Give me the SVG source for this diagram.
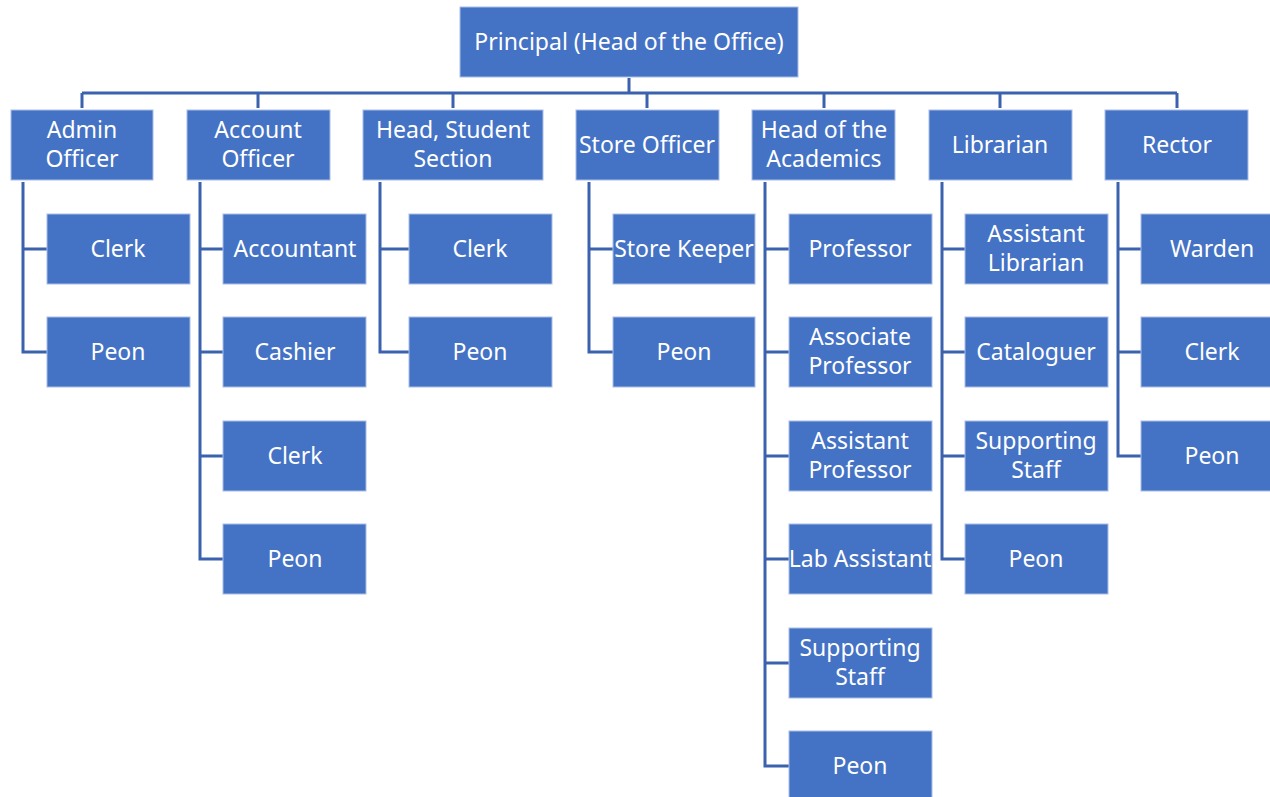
<svg xmlns="http://www.w3.org/2000/svg" width="1270" height="797" viewBox="0 0 1270 797">
<style>
.b{fill:#4472C4;stroke:#A9BEE6;stroke-width:1}
.t{font-family:"Noto Sans","Open Sans",sans-serif;font-size:23px;fill:#ffffff;text-anchor:middle}
.c{fill:none;stroke:#3A62AE;stroke-width:3}
</style>
<rect width="1270" height="797" fill="#ffffff"/>
<g id="connectors" class="c">
<path d="M629 78V93M82 93H1177M82 93V108M258 93V108M453 93V108M647 93V108M824 93V108M1000 93V108M1177 93V108"/>
<path d="M23 182V352H47M23 249H47"/>
<path d="M200 182V559H223M200 249H223M200 352H223M200 456H223"/>
<path d="M380 182V352H409M380 249H409"/>
<path d="M589 182V352H613M589 249H613"/>
<path d="M765 182V766H789M765 249H789M765 352H789M765 456H789M765 559H789M765 663H789"/>
<path d="M942 182V559H965M942 249H965M942 352H965M942 456H965"/>
<path d="M1118 182V456H1141M1118 249H1141M1118 352H1141"/>
</g>
<g id="principal"><rect class="b" x="460" y="7" width="338" height="70"/><text class="t" x="629" y="50">Principal (Head of the Office)</text></g>
<g id="admin-officer"><rect class="b" x="11" y="110" width="142" height="70"/><text class="t" x="82" y="138">Admin</text><text class="t" x="82" y="167">Officer</text></g>
<g id="account-officer"><rect class="b" x="187" y="110" width="143" height="70"/><text class="t" x="258" y="138">Account</text><text class="t" x="258" y="167">Officer</text></g>
<g id="head-student-section"><rect class="b" x="363" y="110" width="180" height="70"/><text class="t" x="453" y="138">Head, Student</text><text class="t" x="453" y="167">Section</text></g>
<g id="store-officer"><rect class="b" x="576" y="110" width="143" height="70"/><text class="t" x="647" y="153">Store Officer</text></g>
<g id="head-academics"><rect class="b" x="752" y="110" width="143" height="70"/><text class="t" x="824" y="138">Head of the</text><text class="t" x="824" y="167">Academics</text></g>
<g id="librarian"><rect class="b" x="929" y="110" width="143" height="70"/><text class="t" x="1000" y="153">Librarian</text></g>
<g id="rector"><rect class="b" x="1105" y="110" width="143" height="70"/><text class="t" x="1177" y="153">Rector</text></g>

<g id="admin-clerk"><rect class="b" x="47" y="214" width="143" height="70"/><text class="t" x="118" y="257">Clerk</text></g>
<g id="admin-peon"><rect class="b" x="47" y="317" width="143" height="70"/><text class="t" x="118" y="360">Peon</text></g>

<g id="accountant"><rect class="b" x="223" y="214" width="143" height="70"/><text class="t" x="295" y="257">Accountant</text></g>
<g id="cashier"><rect class="b" x="223" y="317" width="143" height="70"/><text class="t" x="295" y="360">Cashier</text></g>
<g id="account-clerk"><rect class="b" x="223" y="421" width="143" height="70"/><text class="t" x="295" y="464">Clerk</text></g>
<g id="account-peon"><rect class="b" x="223" y="524" width="143" height="70"/><text class="t" x="295" y="567">Peon</text></g>

<g id="student-clerk"><rect class="b" x="409" y="214" width="143" height="70"/><text class="t" x="480" y="257">Clerk</text></g>
<g id="student-peon"><rect class="b" x="409" y="317" width="143" height="70"/><text class="t" x="480" y="360">Peon</text></g>

<g id="store-keeper"><rect class="b" x="613" y="214" width="142" height="70"/><text class="t" x="684" y="257">Store Keeper</text></g>
<g id="store-peon"><rect class="b" x="613" y="317" width="142" height="70"/><text class="t" x="684" y="360">Peon</text></g>

<g id="professor"><rect class="b" x="789" y="214" width="143" height="70"/><text class="t" x="860" y="257">Professor</text></g>
<g id="associate-professor"><rect class="b" x="789" y="317" width="143" height="70"/><text class="t" x="860" y="345">Associate</text><text class="t" x="860" y="374">Professor</text></g>
<g id="assistant-professor"><rect class="b" x="789" y="421" width="143" height="70"/><text class="t" x="860" y="449">Assistant</text><text class="t" x="860" y="478">Professor</text></g>
<g id="lab-assistant"><rect class="b" x="789" y="524" width="143" height="70"/><text class="t" x="860" y="567">Lab Assistant</text></g>
<g id="academic-supporting-staff"><rect class="b" x="789" y="628" width="143" height="70"/><text class="t" x="860" y="656">Supporting</text><text class="t" x="860" y="685">Staff</text></g>
<g id="academic-peon"><rect class="b" x="789" y="731" width="143" height="70"/><text class="t" x="860" y="774">Peon</text></g>

<g id="assistant-librarian"><rect class="b" x="965" y="214" width="143" height="70"/><text class="t" x="1036" y="242">Assistant</text><text class="t" x="1036" y="271">Librarian</text></g>
<g id="cataloguer"><rect class="b" x="965" y="317" width="143" height="70"/><text class="t" x="1036" y="360">Cataloguer</text></g>
<g id="library-supporting-staff"><rect class="b" x="965" y="421" width="143" height="70"/><text class="t" x="1036" y="449">Supporting</text><text class="t" x="1036" y="478">Staff</text></g>
<g id="library-peon"><rect class="b" x="965" y="524" width="143" height="70"/><text class="t" x="1036" y="567">Peon</text></g>

<g id="warden"><rect class="b" x="1141" y="214" width="143" height="70"/><text class="t" x="1212" y="257">Warden</text></g>
<g id="rector-clerk"><rect class="b" x="1141" y="317" width="143" height="70"/><text class="t" x="1212" y="360">Clerk</text></g>
<g id="rector-peon"><rect class="b" x="1141" y="421" width="143" height="70"/><text class="t" x="1212" y="464">Peon</text></g>
</svg>
